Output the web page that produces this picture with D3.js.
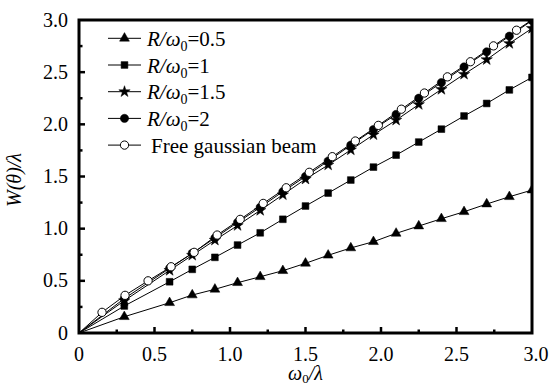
<!DOCTYPE html>
<html>
<head>
<meta charset="utf-8">
<script src="https://cdn.jsdelivr.net/npm/d3@7"></script>
<style>
  body { margin: 0; background: #fff; }
  svg { display: block; }
</style>
</head>
<body>
<svg width="551" height="389"></svg>
<script>
// x positions shared by the R/w0 series
const xR = [0.3, 0.6, 0.75, 0.9, 1.05, 1.2, 1.35, 1.5, 1.65, 1.8, 1.95, 2.1, 2.25, 2.4, 2.55, 2.7, 2.85, 3.0];
const yR05 = [0.156, 0.29, 0.364, 0.419, 0.482, 0.539, 0.597, 0.668, 0.745, 0.815, 0.875, 0.955, 1.025, 1.095, 1.162, 1.236, 1.306, 1.37];
const yR1 = [0.259, 0.491, 0.61, 0.725, 0.843, 0.96, 1.09, 1.217, 1.341, 1.466, 1.59, 1.705, 1.83, 1.954, 2.08, 2.20, 2.33, 2.45];
const yR15 = [0.31, 0.60, 0.745, 0.89, 1.03, 1.175, 1.325, 1.475, 1.61, 1.755, 1.90, 2.04, 2.19, 2.335, 2.48, 2.62, 2.775, 2.92];
const yR2 = [0.33, 0.62, 0.765, 0.91, 1.06, 1.205, 1.355, 1.50, 1.648, 1.80, 1.95, 2.095, 2.25, 2.40, 2.55, 2.695, 2.845, 2.995];
// free gaussian beam has its own x grid
const xFree = [0.1525, 0.305, 0.4575, 0.61, 0.7625, 0.915, 1.0675, 1.22, 1.3725, 1.525, 1.6775, 1.83, 1.9825, 2.135, 2.2875, 2.44, 2.5925, 2.745, 2.8975, 3.05];
const yFree = [0.198, 0.361, 0.50, 0.635, 0.773, 0.939, 1.089, 1.242, 1.392, 1.54, 1.69, 1.84, 1.99, 2.145, 2.30, 2.455, 2.60, 2.752, 2.902, 3.05];

const xTicks = [0, 0.5, 1.0, 1.5, 2.0, 2.5, 3.0];
const yTicks = [0, 0.5, 1.0, 1.5, 2.0, 2.5, 3.0];
const minorTicks = [0.25, 0.75, 1.25, 1.75, 2.25, 2.75];

const seriesNames = ["0.5", "1", "1.5", "2"];

const svg = d3.select("svg");
const plotL = 79, plotR = 532, plotT = 20, plotB = 333;
const serif = "Liberation Serif";

const x = d3.scaleLinear().domain([0, 3]).range([plotL, plotR]);
const y = d3.scaleLinear().domain([0, 3]).range([plotB, plotT]);

const series = [
  { name: seriesNames[0], xs: xR, ys: yR05, shape: "triangle" },
  { name: seriesNames[1], xs: xR, ys: yR1, shape: "square" },
  { name: seriesNames[2], xs: xR, ys: yR15, shape: "star" },
  { name: seriesNames[3], xs: xR, ys: yR2, shape: "circle" },
  { name: "Free gaussian beam", xs: xFree, ys: yFree, shape: "open" }
];

svg.append("defs").append("clipPath").attr("id", "plotclip")
  .append("rect")
  .attr("x", plotL).attr("y", plotT)
  .attr("width", plotR - plotL).attr("height", plotB - plotT);

function markerPath(shape) {
  if (shape === "triangle") return d3.symbol(d3.symbolTriangle, 42)();
  if (shape === "square") return d3.symbol(d3.symbolSquare, 46)();
  if (shape === "star") return d3.symbol(d3.symbolStar, 40)();
  return d3.symbol(d3.symbolCircle, 54)();
}

function drawMarker(g, shape, cx, cy) {
  g.append("path")
    .attr("d", markerPath(shape))
    .attr("transform", "translate(" + cx + "," + cy + ")")
    .attr("fill", shape === "open" ? "#fff" : "#000")
    .attr("stroke", "#000")
    .attr("stroke-width", shape === "open" ? 1 : 0.5);
}

const plot = svg.append("g").attr("clip-path", "url(#plotclip)");

const line = d3.line().x(function(d) { return x(d[0]); }).y(function(d) { return y(d[1]); });

series.forEach(function(s) {
  const pts = [[0, 0]].concat(s.xs.map(function(v, i) { return [v, s.ys[i]]; }));
  plot.append("path")
    .attr("d", line(pts))
    .attr("fill", "none")
    .attr("stroke", "#000")
    .attr("stroke-width", 1);
});

series.forEach(function(s) {
  const g = plot.append("g");
  s.xs.forEach(function(v, i) {
    if (v > 3.0) return;
    drawMarker(g, s.shape, x(v), y(s.ys[i]));
  });
});

// frame
svg.append("rect")
  .attr("x", plotL).attr("y", plotT)
  .attr("width", plotR - plotL).attr("height", plotB - plotT)
  .attr("fill", "none")
  .attr("stroke", "#000")
  .attr("stroke-width", 3);

// ticks (inside)
const ticks = svg.append("g").attr("stroke", "#000").attr("stroke-width", 2.5);
xTicks.slice(1, -1).forEach(function(t) {
  ticks.append("line").attr("x1", x(t)).attr("x2", x(t)).attr("y1", plotB).attr("y2", plotB - 6);
});
yTicks.slice(1, -1).forEach(function(t) {
  ticks.append("line").attr("x1", plotL).attr("x2", plotL + 6).attr("y1", y(t)).attr("y2", y(t));
});
minorTicks.forEach(function(t) {
  ticks.append("line").attr("x1", x(t)).attr("x2", x(t)).attr("y1", plotB).attr("y2", plotB - 3.5);
  ticks.append("line").attr("x1", plotL).attr("x2", plotL + 3.5).attr("y1", y(t)).attr("y2", y(t));
});

function fmt(t) { return t === 0 ? "0" : t.toFixed(1); }

svg.append("g").selectAll("text")
  .data(xTicks)
  .join("text")
  .attr("x", function(d) { return d === 3 ? x(d) + 4 : x(d); })
  .attr("y", 361)
  .attr("text-anchor", "middle")
  .attr("font-family", serif)
  .attr("font-size", 20)
  .text(fmt);

svg.append("g").selectAll("text")
  .data(yTicks)
  .join("text")
  .attr("x", 68)
  .attr("y", function(d) { return y(d) + 6.5; })
  .attr("text-anchor", "end")
  .attr("font-family", serif)
  .attr("font-size", 20)
  .text(fmt);

// axis titles
const xt = svg.append("text")
  .attr("x", (plotL + plotR) / 2)
  .attr("y", 380)
  .attr("text-anchor", "middle")
  .attr("font-family", serif)
  .attr("font-size", 20)
  .attr("font-style", "italic");
xt.append("tspan").text("ω");
xt.append("tspan").attr("font-size", 13).attr("font-style", "normal").attr("dy", 3).text("0");
xt.append("tspan").attr("dy", -3).text("/λ");

svg.append("text")
  .attr("transform", "translate(21,180) rotate(-90)")
  .attr("text-anchor", "middle")
  .attr("font-family", serif)
  .attr("font-size", 20)
  .attr("font-style", "italic")
  .text("W(θ)/λ");

// legend
const legend = svg.append("g");
series.forEach(function(s, i) {
  const cy = 38.3 + i * 26.7;
  legend.append("line")
    .attr("x1", 108).attr("x2", 141)
    .attr("y1", cy).attr("y2", cy)
    .attr("stroke", "#000").attr("stroke-width", 1);
  drawMarker(legend, s.shape, 124.5, cy);
  const t = legend.append("text")
    .attr("x", 147)
    .attr("y", cy + 7.5)
    .attr("font-family", serif)
    .attr("font-size", 21);
  if (s.shape === "open") {
    t.attr("x", 151).text(s.name);
  } else {
    t.append("tspan").attr("font-style", "italic").text("R/ω");
    t.append("tspan").attr("font-size", 14).attr("dy", 5).text("0");
    t.append("tspan").attr("dy", -5).text("=" + s.name);
  }
});
</script>
</body>
</html>
